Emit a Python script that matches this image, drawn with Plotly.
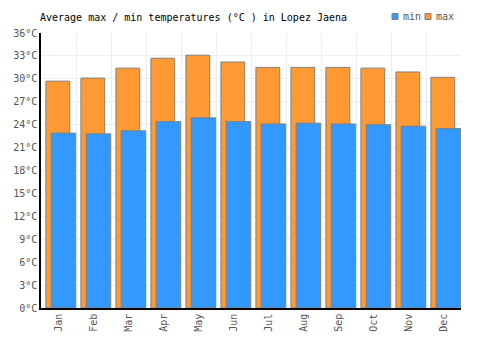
import plotly.graph_objects as go

months = ["Jan", "Feb", "Mar", "Apr", "May", "Jun", "Jul", "Aug", "Sep", "Oct", "Nov", "Dec"]
max_temps = [29.7, 30.1, 31.4, 32.7, 33.1, 32.2, 31.5, 31.5, 31.5, 31.4, 30.9, 30.2]
min_temps = [22.9, 22.8, 23.2, 24.4, 24.9, 24.4, 24.1, 24.2, 24.1, 24.0, 23.8, 23.5]
y_ticks = list(range(0, 37, 3))
y_labels = [f"{v}°C" for v in y_ticks]
legend_items = [("min", "#3399FF"), ("max", "#FF9933")]

font = "DejaVu Sans Mono"
ORANGE = "#FF9933"
BLUE = "#3399FF"
EDGE = "#808080"

L, R, T, B = 41, 39, 33, 42
W, H = 500, 350
PW, PH = W - L - R, H - T - B

def px(x):
    return (x - L) / PW

def py(y):
    return (H - B - y) / PH

fig = go.Figure()
fig.add_trace(go.Bar(
    x=months, y=max_temps, name="max", showlegend=False,
    marker=dict(color=ORANGE, line=dict(color=EDGE, width=1)),
    offset=-0.36, width=0.68,
))
fig.add_trace(go.Bar(
    x=months, y=min_temps, name="min", showlegend=False,
    marker=dict(color=BLUE, line=dict(color=EDGE, width=1)),
    offset=-0.21, width=0.70,
))

# custom legend
shapes = []
annotations = []
leg_x = [392, 425]
for (name, col), x0 in zip(legend_items, leg_x):
    shapes.append(dict(type="rect", xref="paper", yref="paper",
                       x0=px(x0), x1=px(x0 + 6), y0=py(19.5), y1=py(13.5),
                       fillcolor=col, line=dict(color=EDGE, width=1)))
    annotations.append(dict(text=name, xref="paper", yref="paper",
                            x=px(x0 + 9), y=py(16.5), xanchor="left", yanchor="middle",
                            showarrow=False,
                            font=dict(family=font, size=10, color="#555")))

fig.update_layout(
    width=W, height=H,
    margin=dict(l=L, r=R, t=T, b=B, autoexpand=False),
    paper_bgcolor="white", plot_bgcolor="white",
    barmode="overlay",
    showlegend=False,
    shapes=shapes,
    annotations=annotations,
    title=dict(text="Average max / min temperatures (°C ) in Lopez Jaena",
               x=40/500, xanchor="left", y=1-17/350, yanchor="middle",
               font=dict(family=font, size=10, color="#000")),
    font=dict(family=font, size=10, color="#555"),
)
fig.update_xaxes(
    type="category", tickson="boundaries", tickangle=-90,
    showgrid=True, gridcolor="#eeeeee", gridwidth=1,
    showline=True, linecolor="#000", linewidth=1.5,
    ticks="", tickfont=dict(family=font, size=10, color="#555"),
)
fig.update_yaxes(
    range=[0, 36], tickvals=y_ticks, ticktext=y_labels,
    showgrid=True, gridcolor="#eeeeee", gridwidth=1,
    showline=True, linecolor="#000", linewidth=1.5,
    zeroline=False, ticks="", tickfont=dict(family=font, size=10, color="#555"),
)

fig.write_html("out.html")
